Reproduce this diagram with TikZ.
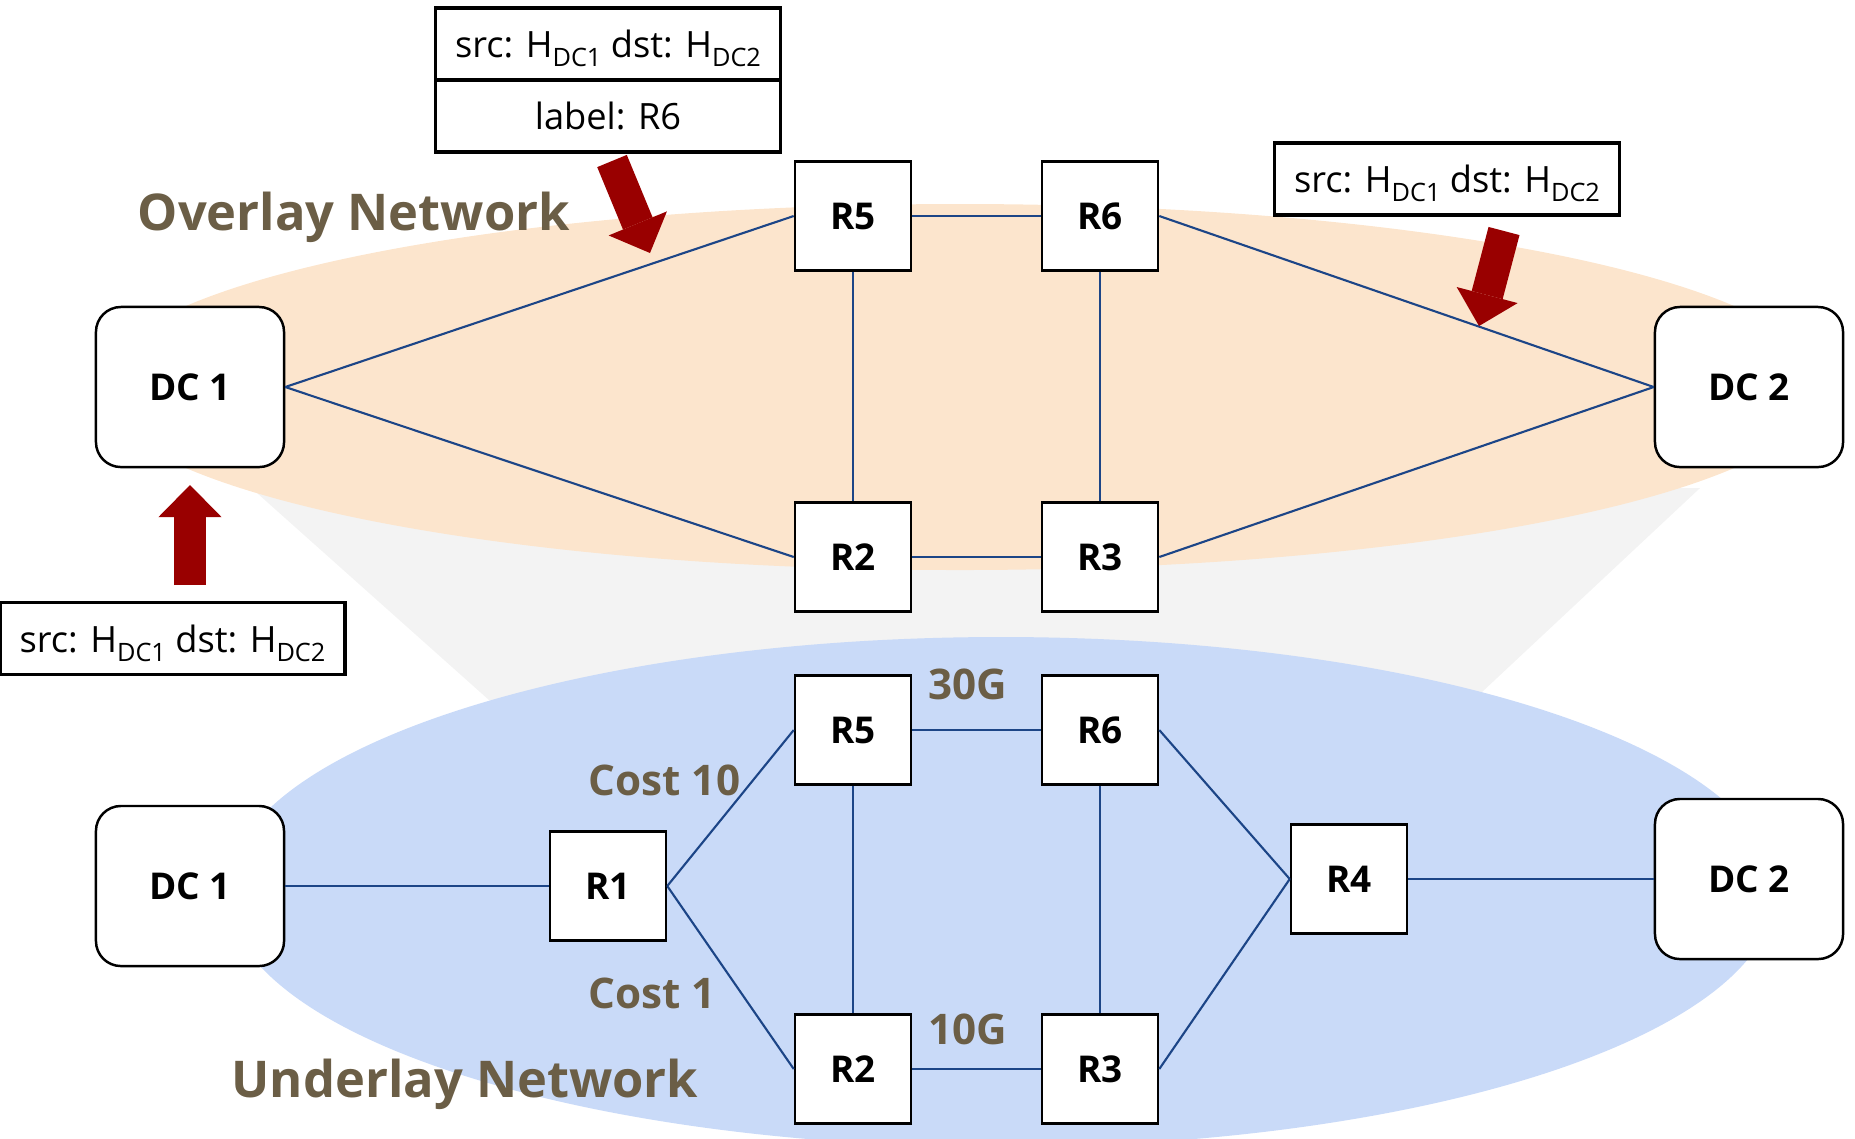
\documentclass[tikz,border=0pt]{standalone}
\usepackage{fontspec}
\setmainfont{Open Sans}
\usetikzlibrary{arrows.meta,positioning}

\definecolor{overlayfill}{HTML}{FCE5CD}
\definecolor{underlayfill}{HTML}{C9DAF8}
\definecolor{funnelgrey}{HTML}{F3F3F3}
\definecolor{linkblue}{HTML}{1C4587}
\definecolor{labelbrown}{HTML}{6B5E46}
\definecolor{pktred}{HTML}{990000}

% subscript of the host names
\newcommand{\hsub}[1]{\raisebox{-2.6pt}{\fontsize{7.2}{8}\selectfont #1}}

\begin{document}
\begin{tikzpicture}[
    x=0.01cm, y=-0.01cm,
    dcnode/.style={draw=black, line width=0.7pt, fill=white, rounded corners=0.25cm, minimum width=1.88cm, minimum height=1.6cm, font=\fontsize{10.5}{12}\selectfont\bfseries},
    rtnode/.style={draw=black, line width=0.7pt, fill=white, minimum width=1.16cm, minimum height=1.09cm, font=\fontsize{10.5}{12}\selectfont\bfseries},
    pktnode/.style={draw=black, line width=1pt, fill=white, minimum width=3.45cm, minimum height=0.72cm, inner sep=0pt, text height=0.27cm, text depth=0pt, font=\fontsize{10.3}{12}\selectfont},
    netlabel/.style={text=labelbrown, font=\fontsize{14.4}{17}\selectfont\bfseries, inner sep=0pt},
    costlabel/.style={text=labelbrown, font=\fontsize{12}{14}\selectfont\bfseries, inner sep=0pt},
    link/.style={draw=linkblue, line width=0.6pt},
    pktarrow/.style={draw=pktred, line width=0.32cm, -{Triangle[width=0.63cm, length=0.32cm, line width=0pt]}}
]
\useasboundingbox (0,0) rectangle (1855,1138);
\clip (0,0) rectangle (1855,1138);

% Background: funnel and the two network layers
\fill[funnelgrey] (257,493) -- (1700,488) -- (1482,692) -- (489,700) -- cycle;
\fill[overlayfill] (960,387) ellipse [x radius=863, y radius=183];
\fill[underlayfill] (1001,892) ellipse [x radius=774, y radius=255];

\node[netlabel, anchor=base west] at (137,230) {Overlay Network};
\node[netlabel, anchor=base west] at (231,1097) {Underlay Network};

% Overlay network
\node[dcnode] (oDC1) at (190,387) {DC 1};
\node[dcnode] (oDC2) at (1749,387) {DC 2};
\node[rtnode] (oR5) at (853,216) {R5};
\node[rtnode] (oR6) at (1100,216) {R6};
\node[rtnode] (oR2) at (853,557) {R2};
\node[rtnode] (oR3) at (1100,557) {R3};

\draw[link] (oDC1.east) -- (oR5.west);
\draw[link] (oDC1.east) -- (oR2.west);
\draw[link] (oR5) -- (oR6);
\draw[link] (oR2) -- (oR3);
\draw[link] (oR5) -- (oR2);
\draw[link] (oR6) -- (oR3);
\draw[link] (oR6.east) -- (oDC2.west);
\draw[link] (oR3.east) -- (oDC2.west);

% Underlay network
\node[dcnode] (uDC1) at (190,886) {DC 1};
\node[dcnode] (uDC2) at (1749,879) {DC 2};
\node[rtnode] (uR1) at (608,886) {R1};
\node[rtnode] (uR5) at (853,730) {R5};
\node[rtnode] (uR6) at (1100,730) {R6};
\node[rtnode] (uR2) at (853,1069) {R2};
\node[rtnode] (uR3) at (1100,1069) {R3};
\node[rtnode] (uR4) at (1349,879) {R4};

\draw[link] (uDC1) -- (uR1);
\draw[link] (uR1.east) -- (uR5.west);
\draw[link] (uR1.east) -- (uR2.west);
\draw[link] (uR5) -- (uR6);
\draw[link] (uR2) -- (uR3);
\draw[link] (uR5) -- (uR2);
\draw[link] (uR6) -- (uR3);
\draw[link] (uR6.east) -- (uR4.west);
\draw[link] (uR3.east) -- (uR4.west);
\draw[link] (uR4) -- (uDC2);

\node[costlabel] (bw30) at (968,684) {30G};
\node[costlabel] (bw10) at (968,1029) {10G};
\node[costlabel, anchor=west] (cost10) at (588,780) {Cost 10};
\node[costlabel, anchor=west] (cost1) at (588,993) {Cost 1};

% Packets
\node[pktnode] (pktIn) at (172.5,638.5) {src: H\hsub{DC1} dst: H\hsub{DC2}};
\node[pktnode] (pktEnc) at (608,44) {src: H\hsub{DC1} dst: H\hsub{DC2}};
\node[pktnode] (pktLbl) at (608,116) {label: R6};
\node[pktnode] (pktOut) at (1447,179) {src: H\hsub{DC1} dst: H\hsub{DC2}};

\coordinate (inTail) at (190,585);
\coordinate (inTip) at (190,485);
\coordinate (encTail) at (612,161);
\coordinate (encTip) at (650,253);
\coordinate (outTail) at (1504,231);
\coordinate (outTip) at (1479,326);

\draw[pktarrow] (inTail) -- (inTip);
\draw[pktarrow] (encTail) -- (encTip);
\draw[pktarrow] (outTail) -- (outTip);

\end{tikzpicture}
\end{document}
